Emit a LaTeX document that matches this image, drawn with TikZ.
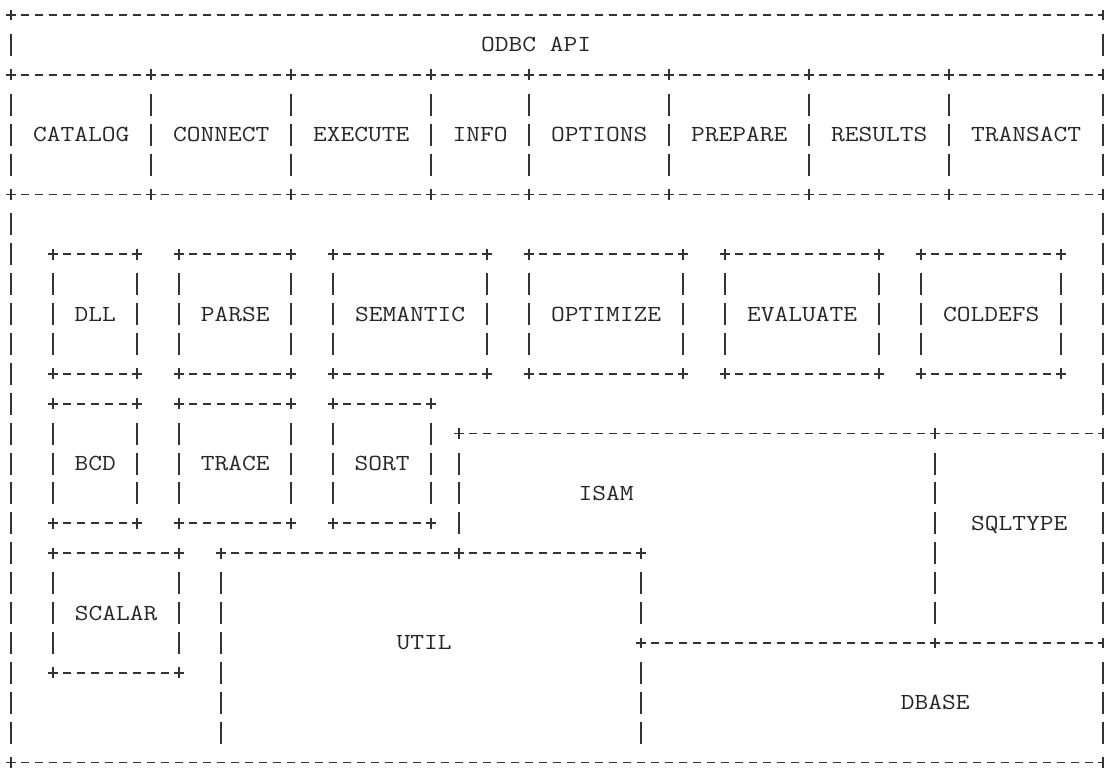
\documentclass[tikz,border=0pt]{standalone}

\begin{document}
\begin{tikzpicture}[x=7pt, y=-14.95pt,
		ascii/.style={draw=black!80, line width=0.85pt},
		hline/.style={ascii, dash pattern=on 4pt off 3pt, dash phase=5.5pt},
		vline/.style={ascii, dash pattern=on 11pt off 3.95pt, dash phase=12.975pt},
		lbl/.style={font=\ttfamily\fontsize{11.5}{14}\selectfont, text=black!85, inner sep=0pt, text height=7pt, text depth=0pt, xscale=1.16, transform shape}]

	\useasboundingbox (-0.8,-0.502) rectangle (78.057,25.184);

	% 方框：边为 - 和 |，角为 +
	\foreach \ca/\ra/\cb/\rb in {0/0/78/2, 0/2/10/6, 10/2/20/6, 20/2/30/6, 30/2/37/6, 37/2/47/6, 47/2/57/6, 57/2/67/6, 67/2/78/6,
			3/8/9/12, 12/8/20/12, 23/8/34/12, 37/8/48/12, 51/8/62/12, 65/8/75/12,
			3/13/9/17, 12/13/20/17, 23/13/30/17, 3/18/12/22, 66/14/78/21} {
		\draw[hline] (\ca+.5,\ra) -- (\cb-.5,\ra) (\ca+.5,\rb) -- (\cb-.5,\rb);
		\draw[vline] (\ca,\ra+.5) -- (\ca,\rb-.5) (\cb,\ra+.5) -- (\cb,\rb-.5);
		\foreach \cx/\cy in {\ca/\ra, \cb/\ra, \ca/\rb, \cb/\rb}
			\draw[ascii] (\cx,\cy) +(-2.5pt,0pt) -- +(2.5pt,0pt) +(0pt,-2.7pt) -- +(0pt,2.7pt);
	}

	% 外框与 ISAM / UTIL / DBASE 的边
	\draw[hline] (32.5,14) -- (65.5,14) (15.5,18) -- (44.5,18) (45.5,21) -- (65.5,21) (0.5,25) -- (77.5,25);
	\draw[vline] (0,6.5) -- (0,24.5) (78,6.5) -- (78,13.5) (78,21.5) -- (78,24.5) (32,14.5) -- (32,17.5)
		(15,18.5) -- (15,24.5) (45,18.5) -- (45,20.5) (45,21.5) -- (45,24.5);
	\foreach \cx/\cy in {32/14, 15/18, 32/18, 45/18, 45/21, 0/25, 78/25}
		\draw[ascii] (\cx,\cy) +(-2.5pt,0pt) -- +(2.5pt,0pt) +(0pt,-2.7pt) -- +(0pt,2.7pt);

	% 文字
	\node[lbl] (api) at (37.5,1) {ODBC API};
	\node[lbl] (catalog) at (5,4) {CATALOG};
	\node[lbl] (connect) at (15,4) {CONNECT};
	\node[lbl] (execute) at (25,4) {EXECUTE};
	\node[lbl] (info) at (33.5,4) {INFO};
	\node[lbl] (options) at (42,4) {OPTIONS};
	\node[lbl] (prepare) at (52,4) {PREPARE};
	\node[lbl] (results) at (62,4) {RESULTS};
	\node[lbl] (transact) at (72.5,4) {TRANSACT};
	\node[lbl] (dll) at (6,10) {DLL};
	\node[lbl] (parse) at (16,10) {PARSE};
	\node[lbl] (semantic) at (28.5,10) {SEMANTIC};
	\node[lbl] (optimize) at (42.5,10) {OPTIMIZE};
	\node[lbl] (evaluate) at (56.5,10) {EVALUATE};
	\node[lbl] (coldefs) at (70,10) {COLDEFS};
	\node[lbl] (bcd) at (6,15) {BCD};
	\node[lbl] (trace) at (16,15) {TRACE};
	\node[lbl] (sort) at (26.5,15) {SORT};
	\node[lbl] (isam) at (42.5,16) {ISAM};
	\node[lbl] (sqltype) at (72,17) {SQLTYPE};
	\node[lbl] (scalar) at (7.5,20) {SCALAR};
	\node[lbl] (util) at (29.5,21) {UTIL};
	\node[lbl] (dbase) at (66,23) {DBASE};
\end{tikzpicture}
\end{document}
